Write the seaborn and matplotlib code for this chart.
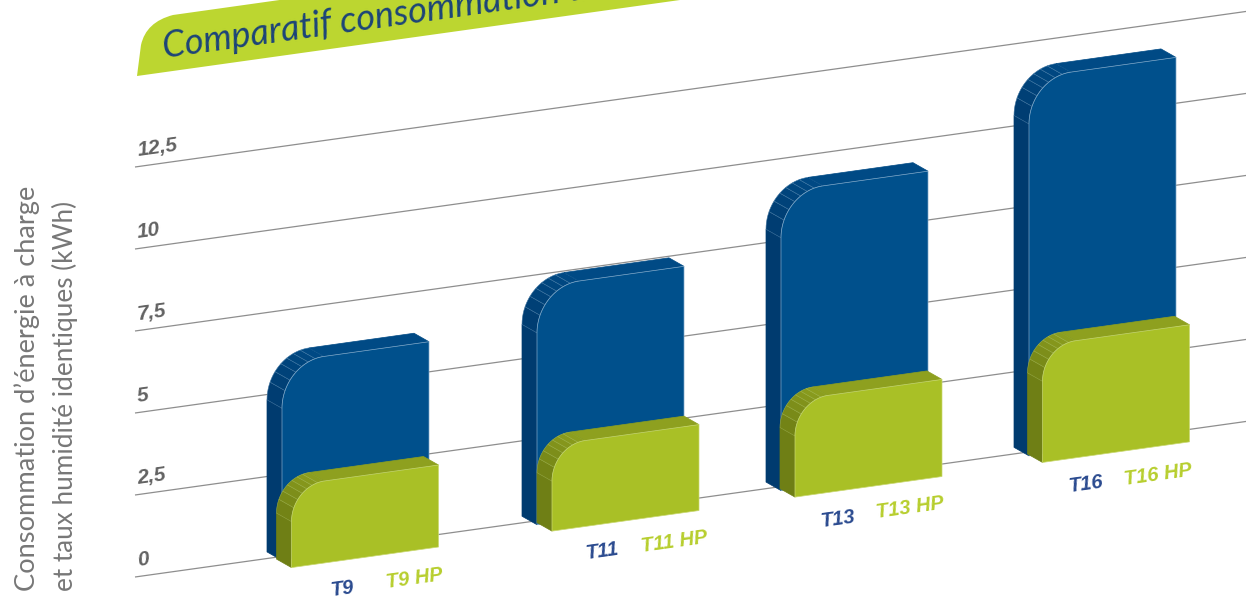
import numpy as np
import pandas as pd
import matplotlib
matplotlib.use("Agg")
import matplotlib.pyplot as plt
import seaborn as sns
from matplotlib.patches import Polygon, PathPatch
from matplotlib.path import Path
from matplotlib.transforms import Affine2D

# --- DATA (kWh) ---
MODELS = ["T9", "T11", "T13", "T16"]
STANDARD = [6.04, 7.25, 9.11, 11.52]
HEAT_PUMP = [2.5, 2.62, 2.96, 3.57]
HP_LABELS = ["T9 HP", "T11 HP", "T13 HP", "T16 HP"]
Y_TICKS = [0, 2.5, 5, 7.5, 10, 12.5]
Y_TICK_LABELS = ["0", "2,5", "5", "7,5", "10", "12,5"]

# --- LAYOUT ---
W, H = 1246, 601
SLOPE = 0.14
PX_X = 249.0   # pixels per category
PX_Y = 32.8    # pixels per kWh
X_ORIGIN = 355.5
Y_ORIGIN = 5.1
BAR_PX = 147
DEPTH = (-15, 8.5)

STYLE = {
    "standard": dict(front="#00508C", side="#003B6F", top="#004A85", line="#7FA8C9",
                     radius=(42, 46), nudge_x=[0, 6, 1, 0], nudge_y=-4),
    "hp": dict(front="#A9C026", side="#6F7F15", top="#8EA01F", line="#C9D870",
               radius=(33, 36), nudge_x=[9.5, 21, 15, 13.5], nudge_y=-12.5),
}
CORNER_ANGLES = [0, 22, 36, 48, 58, 68, 78, 90]
BOLD_ITALIC = dict(family="Liberation Sans", fontstyle="italic", fontweight="bold")

sns.set_theme(style="white")
plt.rcParams["font.family"] = ["Lato", "DejaVu Sans"]

fig = plt.figure(figsize=(W / 100, H / 100), dpi=100)
ax = fig.add_axes([0, 0, 1, 1])

df = pd.DataFrame({
    "model": MODELS * 2,
    "kwh": STANDARD + HEAT_PUMP,
    "serie": ["standard"] * 4 + ["hp"] * 4,
})
sns.barplot(data=df, x="model", y="kwh", hue="serie", hue_order=["standard", "hp"],
            dodge=False, width=BAR_PX / PX_X, legend=False, errorbar=None, ax=ax)
ax.set_xlim(-X_ORIGIN / PX_X, (W - X_ORIGIN) / PX_X)
ax.set_ylim(-Y_ORIGIN / PX_Y, (H - Y_ORIGIN) / PX_Y)
ax.set_axis_off()

skew = Affine2D.from_values(1, SLOPE, 0, 1, 0, 0)
skewed = ax.transData + skew

# depth of the extrusion in unskewed data units
depth_x = DEPTH[0] / PX_X
depth_y = (DEPTH[1] - SLOPE * DEPTH[0]) / PX_Y


def mix(c1, c2, t):
    a = np.array(matplotlib.colors.to_rgb(c1))
    b = np.array(matplotlib.colors.to_rgb(c2))
    return tuple(a + (b - a) * t)


def add_face(points, color, line, zorder, lw=0.5):
    ax.add_patch(Polygon(points, closed=True, facecolor=color, edgecolor=line, linewidth=lw,
                         transform=skewed, zorder=zorder, clip_on=False))


def draw_bar(bar, style, nudge_px, zorder):
    """Swap a flat seaborn bar for the extruded shape with the rounded corner."""
    x0 = bar.get_x() + nudge_px / PX_X
    w = bar.get_width()
    y0 = style["nudge_y"] / PX_Y
    y1 = y0 + bar.get_height()
    rx, ry = style["radius"][0] / PX_X, style["radius"][1] / PX_Y
    bar.remove()

    def corner(deg):
        t = np.radians(deg)
        return (x0 + rx - rx * np.cos(t), y1 - ry + ry * np.sin(t))

    def back(p):
        return (p[0] + depth_x, p[1] + depth_y)

    # left side, corner strips, top
    start = corner(0)
    end = corner(90)
    add_face([(x0, y0), start, back(start), back((x0, y0))], style["side"], style["side"], zorder)
    for a, b in zip(CORNER_ANGLES[:-1], CORNER_ANGLES[1:]):
        strip = [corner(d) for d in np.linspace(a, b, 6)]
        fill = mix(style["side"], style["top"], (a + b) / 180)
        add_face(strip + [back(p) for p in strip[::-1]], fill, mix(fill, style["line"], 0.45),
                 zorder, lw=0.4)
    add_face([end, (x0 + w, y1), back((x0 + w, y1)), back(end)], style["top"], style["top"], zorder)

    # front face
    arc = [corner(d) for d in np.linspace(0, 90, 30)]
    front = [(x0, y0)] + arc + [(x0 + w, y1), (x0 + w, y0)]
    add_face(front, style["front"], style["line"], zorder + 0.5)


# --- GRID ---
ax.hlines(Y_TICKS, 135 / PX_X - X_ORIGIN / PX_X, (W + 20 - X_ORIGIN) / PX_X, color="#8E8E8E",
          linewidth=0.9, transform=skewed, zorder=1)

# --- BARS ---
for container, key, base_z in zip(ax.containers, ["standard", "hp"], [3, 5]):
    for i, bar in enumerate(list(container)):
        draw_bar(bar, STYLE[key], STYLE[key]["nudge_x"][i], base_z)

# --- TEXT ---
def px_text(x, y, s, **kws):
    """Text placed with picture pixels (y going down)."""
    fig.text(x / W, 1 - y / H, s, **kws)


ANGLE = np.degrees(np.arctan(SLOPE))
for tick, label in zip(Y_TICKS, Y_TICK_LABELS):
    y_img = 577 - tick * PX_Y - 11
    px_text(138, y_img, label, fontsize=15, color="#626262", rotation=ANGLE,
            rotation_mode="anchor", ha="left", va="baseline", **BOLD_ITALIC)

T_POS = [(342, 589), (602, 551), (838, 519), (1086, 484)]
HP_POS = [(414, 579), (674, 542), (910, 508), (1158, 475)]
for s, p in zip(MODELS, T_POS):
    px_text(p[0], p[1], s, fontsize=14.5, color="#2A4A8F", rotation=ANGLE,
            rotation_mode="anchor", ha="center", va="center", **BOLD_ITALIC)
for s, p in zip(HP_LABELS, HP_POS):
    px_text(p[0], p[1], s, fontsize=14.5, color="#B7CE2E", rotation=ANGLE,
            rotation_mode="anchor", ha="center", va="center", **BOLD_ITALIC)

px_text(27, 591, "Consommation d\u2019énergie à charge", fontsize=19.6, color="#777777",
        rotation=90, ha="center", va="bottom")
px_text(65, 591, "et taux humidité identiques (kWh)", fontsize=18.8, color="#777777",
        rotation=90, ha="center", va="bottom")

# --- TITLE BANNER ---
verts = [(137, 76), (141, 45), (146, 22), (173, 15), (720, -62), (720, -5.6), (137, 76), (137, 76)]
codes = [Path.MOVETO, Path.LINETO, Path.CURVE3, Path.CURVE3, Path.LINETO, Path.LINETO, Path.LINETO,
         Path.CLOSEPOLY]
verts = [(x / W, 1 - y / H) for x, y in verts]
fig.add_artist(PathPatch(Path(verts, codes), facecolor="#BCD630", edgecolor="none",
                         transform=fig.transFigure, zorder=2))
px_text(164, 58, "Comparatif consommation d\u2019énergie", fontsize=26, fontstyle="italic",
        color="#1C4478", rotation=ANGLE, rotation_mode="anchor", ha="left", va="baseline", zorder=3)

fig.savefig("out.png", dpi=100)
plt.close(fig)
